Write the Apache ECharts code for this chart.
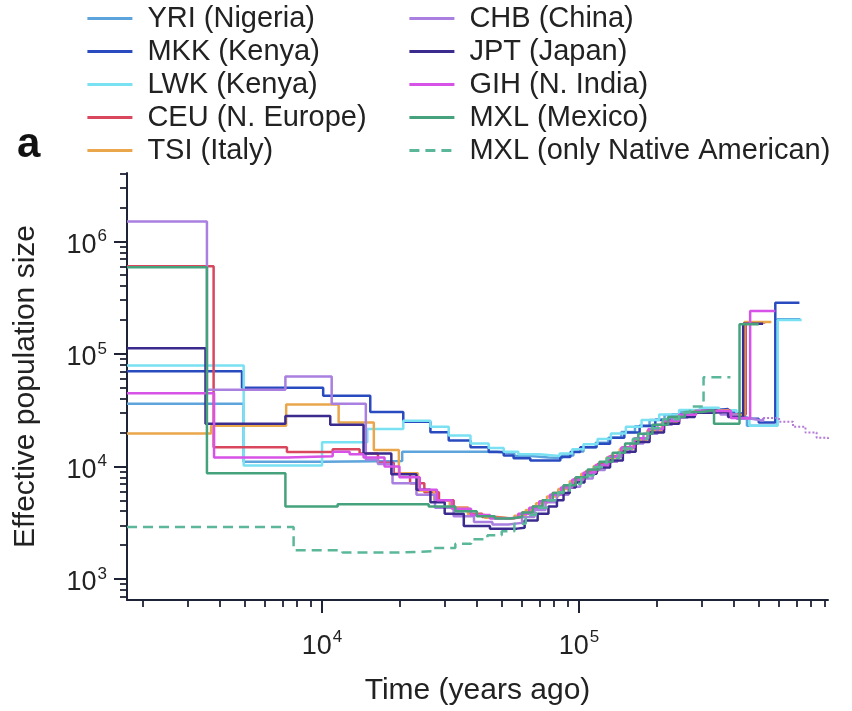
<!DOCTYPE html>
<html><head><meta charset="utf-8">
<script src="https://cdn.jsdelivr.net/npm/echarts@6/dist/echarts.min.js"></script>
<style>html,body{margin:0;padding:0;background:#fff}#c{width:852px;height:711px}</style>
</head><body><div id="c"></div>
<script>
const FONT = '"Liberation Sans", Arial, Helvetica, sans-serif';

// axis ranges and tick values
const xRange = [1742, 930000];
const yRange = [650, 4050000];
const xMajorTicks = [1e4, 1e5];
const yMajorTicks = [1e3, 1e4, 1e5, 1e6];
const xMinorTicks = [2e3,3e3,4e3,5e3,6e3,7e3,8e3,9e3,2e4,3e4,4e4,5e4,6e4,7e4,8e4,9e4,2e5,3e5,4e5,5e5,6e5,7e5,8e5,9e5];
const yMinorTicks = [700,800,900,2e3,3e3,4e3,5e3,6e3,7e3,8e3,9e3,2e4,3e4,4e4,5e4,6e4,7e4,8e4,9e4,2e5,3e5,4e5,5e5,6e5,7e5,8e5,9e5,2e6,3e6,4e6];

const names = ['YRI (Nigeria)','MKK (Kenya)','LWK (Kenya)','CEU (N. Europe)','TSI (Italy)','CHB (China)','JPT (Japan)','GIH (N. India)','MXL (Mexico)','MXL (only Native American)'];
const colors = ['#5da3dc','#2a4bbf','#79e1f2','#d9475e','#e9a64a','#a97fe0','#3b2b8f','#d752e6','#45a27c','#5bb79a'];

// [time (years ago), effective population size]
const YRI = [[1742,36000],[4950,11000],[10000,11200],[20500,13500],[48000,13000],[56000,12400],[65000,12000],[76000,11900],[86000,12500],[95000,13600],[104000,14800],[116000,16200],[130000,18000],[146000,20200],[165000,22800],[188000,25800],[215000,28600],[248000,30800],[290000,32000],[340000,31000],[400000,27500],[450000,23000],[590000,203000],[726000,203000]];
const MKK = [[1742,70000],[4880,50000],[10100,42500],[15400,30500],[20700,25000],[26400,20100],[31100,17000],[37800,14800],[44500,13400],[50900,12500],[55600,11800],[64600,11300],[84500,12100],[92500,13400],[101000,14800],[117000,15900],[132000,18000],[150000,20000],[172000,23000],[198000,26000],[230000,29000],[270000,31200],[320000,32300],[380000,29500],[440000,26500],[500000,24500],[580000,285000],[720000,285000]];
const LWK = [[1742,79000],[4955,10200],[10000,16400],[15000,21500],[20700,25500],[26400,22500],[31100,18800],[37800,16000],[44500,14600],[50900,13500],[58000,12800],[70000,12400],[84000,13000],[94000,14200],[104000,15700],[118000,17500],[133000,19600],[152000,22500],[175000,25800],[205000,29000],[245000,31800],[295000,33200],[350000,31500],[410000,27000],[460000,23000],[592000,200000],[735000,200000]];
const CEU = [[1742,600000],[3785,14800],[7300,13400],[11000,14200],[14000,13000],[16500,10800],[19000,8600],[22000,7100],[25000,5900],[28500,5000],[32500,4300],[37000,3800],[42000,3550],[48000,3450],[54000,3550],[60000,3900],[66000,4400],[72000,5000],[79000,5800],[87000,6700],[96000,7800],[106000,9000],[118000,10500],[132000,12400],[148000,14800],[166000,17700],[188000,21200],[214000,25000],[245000,28400],[282000,31000],[330000,31800],[385000,29000],[445000,190000],[530000,190000]];
const TSI = [[1742,19600],[3700,23000],[7250,35500],[11600,24500],[15900,14000],[19900,8700],[23600,6100],[27300,5000],[31400,4300],[37000,3700],[43000,3500],[50000,3450],[56000,3650],[62000,4100],[68000,4700],[75000,5400],[83000,6300],[92000,7400],[102000,8600],[114000,10100],[128000,12000],[144000,14300],[162000,17300],[184000,20800],[210000,24600],[242000,28000],[280000,30800],[325000,31500],[380000,28500],[440000,192000],[560000,192000]];
const CHB = [[1742,1500000],[3565,48000],[7200,63000],[10900,36000],[14800,11500],[16500,10500],[18800,7100],[23300,5600],[27500,4300],[32500,3600],[39000,3200],[46000,3050],[53000,3150],[60000,3550],[67000,4100],[74000,4800],[82000,5600],[91000,6600],[101000,7800],[113000,9300],[126000,11000],[141000,13200],[158000,16000],[178000,19500],[202000,23500],[230000,27200],[265000,30000],[305000,31200],[355000,29000],[410000,26500],[470000,25500],[520000,27000]];
const CHB_TAIL = [[520000,27000],[600000,25000],[680000,22500],[760000,20000],[840000,18000],[930000,17000]];
const JPT = [[1742,112000],[3520,24000],[7200,28000],[10760,23500],[14500,13000],[18600,8500],[23300,6200],[26400,4800],[30000,3800],[35600,2950],[45000,2800],[57300,2850],[61400,3300],[69000,3800],[76000,4400],[82000,5000],[87000,5800],[92000,6500],[97000,7200],[105000,8600],[117000,9800],[132000,11300],[148000,13500],[166000,16500],[188000,20000],[214000,24000],[245000,27500],[282000,30000],[325000,30500],[380000,27500],[435000,185000],[520000,185000]];
const GIH = [[1742,44600],[3800,12000],[7300,12300],[11000,13500],[12800,12800],[14500,12000],[17500,10000],[20000,8000],[24000,6200],[28000,5000],[32000,4200],[38000,3700],[45000,3450],[52000,3500],[58000,3800],[64000,4300],[70000,4900],[77000,5600],[85000,6500],[94000,7600],[104000,8800],[116000,10300],[130000,12200],[146000,14700],[164000,17800],[186000,21500],[212000,25500],[245000,28800],[285000,31000],[330000,31000],[390000,27000],[463000,240000],[580000,240000]];
const MXL = [[1742,590000],[3565,8700],[7200,4400],[11500,4600],[26000,4400],[33000,4000],[40000,3600],[47000,3450],[54000,3550],[60000,3900],[66000,4400],[72000,5000],[79000,5800],[87000,6800],[97000,8000],[108000,9400],[120000,11000],[135000,13200],[151000,16000],[170000,19500],[193000,23500],[222000,27500],[258000,30500],[300000,31500],[335000,24000],[421000,183000],[500000,183000]];
const MXL_NA = [[1742,2900],[7750,1800],[12000,1720],[20000,1760],[27000,1880],[33000,2050],[38000,2250],[44000,2450],[50000,2650],[56000,3100],[62000,3700],[68000,4300],[75000,5000],[83000,5900],[92000,7000],[102000,8300],[114000,9900],[128000,11900],[144000,14400],[162000,17600],[185000,21800],[212000,26200],[245000,30200],[270000,34000],[305000,62000],[388000,62000]];

const allData = [YRI, MKK, LWK, CEU, TSI, CHB, JPT, GIH, MXL, MXL_NA];

const AXIS_COLOR = '#1f2336';
function supLabel(v) { return '{b|10}{s|' + Math.round(Math.log10(v)) + '}'; }
const labelRich = {
  b: { fontSize: 27, fontFamily: FONT, color: '#222', lineHeight: 27, padding: [8, 0, 0, 0] },
  s: { fontSize: 17, fontFamily: FONT, color: '#222', lineHeight: 17, verticalAlign: 'top', padding: [0, 0, 0, 1] }
};

const series = names.map((n, i) => ({
  name: n, type: 'line', step: 'end', data: allData[i], symbol: 'none', showSymbol: false,
  xAxisIndex: 0, yAxisIndex: 0,
  lineStyle: { color: colors[i], width: 2.5, type: i === 9 ? [10, 6] : 'solid' },
  itemStyle: { color: colors[i] },
  emphasis: { disabled: true }
}));
series.push({
  name: 'CHB (China)', type: 'line', step: 'end', data: CHB_TAIL, symbol: 'none', showSymbol: false,
  lineStyle: { color: '#b578d6', width: 2, type: 'dotted' }, itemStyle: { color: colors[5] },
  emphasis: { disabled: true }
});

const legendCommon = {
  orient: 'vertical', top: 2, padding: 0, itemGap: 0, itemWidth: 45, itemHeight: 14,
  selectedMode: false,
  itemStyle: { color: 'rgba(0,0,0,0)', borderColor: 'rgba(0,0,0,0)', borderWidth: 0 },
  lineStyle: { width: 2.8 },
  formatter: n => '{t|' + n + '}',
  textStyle: { fontFamily: FONT, fontSize: 29, color: '#222', lineHeight: 33,
    rich: { t: { fontFamily: FONT, fontSize: 29, color: '#222', lineHeight: 33, padding: [0, 0, 0, 10] } } }
};

const option = {
  animation: false,
  backgroundColor: '#fff',
  title: { text: 'a', left: 17, top: 124, padding: 0,
    textStyle: { fontFamily: FONT, fontWeight: 'bold', fontSize: 42, color: '#111' } },
  legend: [
    Object.assign({}, legendCommon, { left: 86, data: names.slice(0, 5) }),
    Object.assign({}, legendCommon, { left: 408, data: names.slice(5) })
  ],
  grid: { left: 127, right: 24, top: 173, bottom: 110, containLabel: false },
  xAxis: [
    { type: 'log', min: xRange[0], max: xRange[1], position: 'bottom',
      name: 'Time (years ago)', nameLocation: 'middle', nameGap: 76,
      nameTextStyle: { fontFamily: FONT, fontSize: 30, color: '#222' },
      axisLine: { show: true, onZero: false, lineStyle: { color: AXIS_COLOR, width: 2 } },
      axisTick: { show: true, customValues: xMajorTicks, length: 13, lineStyle: { color: AXIS_COLOR, width: 2 } },
      axisLabel: { show: true, customValues: xMajorTicks, margin: 29, formatter: supLabel, rich: labelRich },
      splitLine: { show: false }, minorTick: { show: false } },
    { type: 'log', min: xRange[0], max: xRange[1], position: 'bottom', offset: 0,
      axisLine: { show: false },
      axisTick: { show: true, customValues: xMinorTicks, length: 7, lineStyle: { color: AXIS_COLOR, width: 1.8 } },
      axisLabel: { show: false }, splitLine: { show: false } }
  ],
  yAxis: [
    { type: 'log', min: yRange[0], max: yRange[1], position: 'left',
      name: 'Effective population size', nameLocation: 'middle', nameGap: 86,
      nameTextStyle: { fontFamily: FONT, fontSize: 30, color: '#222' },
      axisLine: { show: true, onZero: false, lineStyle: { color: AXIS_COLOR, width: 2 } },
      axisTick: { show: true, customValues: yMajorTicks, length: 13, lineStyle: { color: AXIS_COLOR, width: 2 } },
      axisLabel: { show: true, customValues: yMajorTicks, margin: 20, formatter: supLabel, rich: labelRich },
      splitLine: { show: false }, minorTick: { show: false } },
    { type: 'log', min: yRange[0], max: yRange[1], position: 'left', offset: 0,
      axisLine: { show: false },
      axisTick: { show: true, customValues: yMinorTicks, length: 7, lineStyle: { color: AXIS_COLOR, width: 1.8 } },
      axisLabel: { show: false }, splitLine: { show: false } }
  ],
  series: series
};

const chart = echarts.init(document.getElementById('c'), null, { renderer: 'canvas', width: 852, height: 711 });
chart.setOption(option);
</script>
</body></html>
